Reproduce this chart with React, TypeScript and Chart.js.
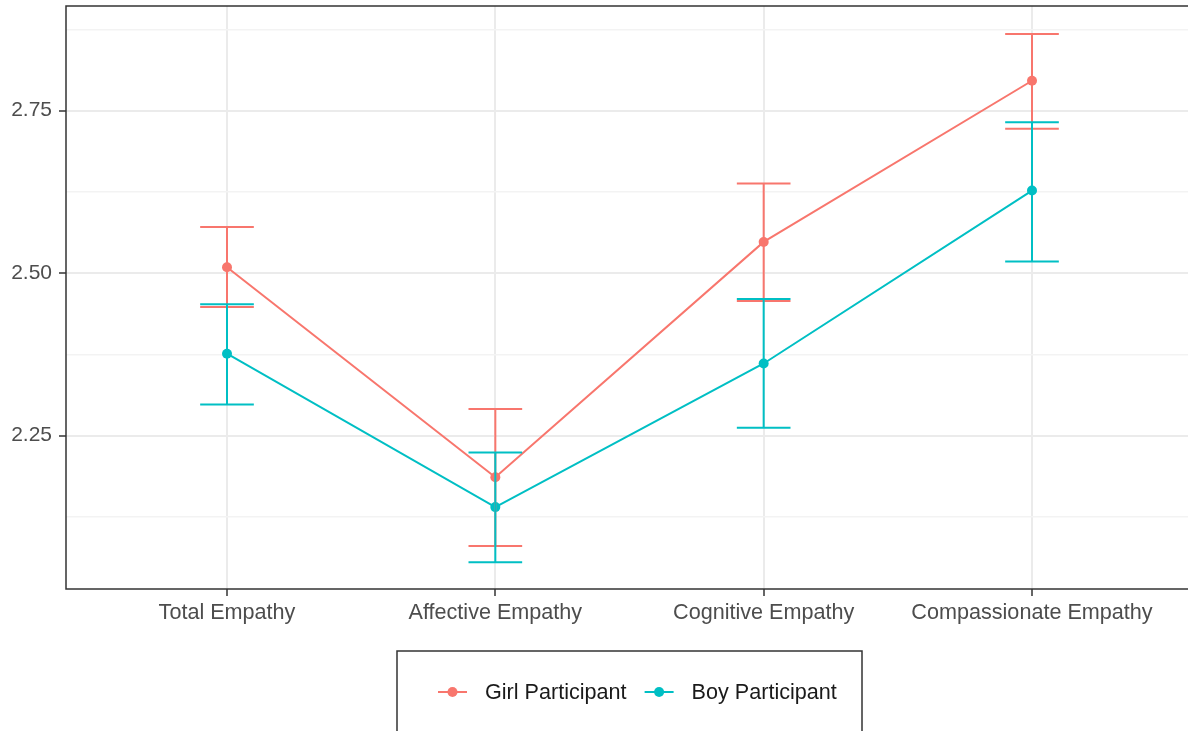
import React, { useEffect, useRef } from "react";
import { Chart, registerables } from "chart.js";

Chart.register(...registerables);

const categories = ["Total Empathy", "Affective Empathy", "Cognitive Empathy", "Compassionate Empathy"];
const seriesNames = ["Girl Participant", "Boy Participant"];
const girlMean = [2.509, 2.186, 2.548, 2.796];
const girlLower = [2.448, 2.080, 2.457, 2.722];
const girlUpper = [2.571, 2.291, 2.638, 2.868];
const boyMean = [2.376, 2.140, 2.361, 2.627];
const boyLower = [2.298, 2.055, 2.262, 2.518];
const boyUpper = [2.452, 2.224, 2.460, 2.732];
const yMajorTicks = [2.25, 2.5, 2.75];
const yMinorTicks = [2.125, 2.375, 2.625, 2.875];

const GIRL = "#F8766D";
const BOY = "#00BFC4";
const FONT = "'Liberation Sans', Arial, Helvetica, sans-serif";

export default function App() {
  const ref = useRef<HTMLCanvasElement | null>(null);

  useEffect(() => {
    document.body.style.margin = "0";
    const canvas = ref.current;
    if (!canvas) return;

    const errorBars = {
      id: "errorBars",
      afterDatasetsDraw(chart: any) {
        const ctx = chart.ctx;
        const xs = chart.scales.x;
        const ys = chart.scales.y;
        const groups = [
          { lo: girlLower, hi: girlUpper, color: GIRL },
          { lo: boyLower, hi: boyUpper, color: BOY },
        ];
        const capHalf = xs.getPixelForValue(0.1) - xs.getPixelForValue(0);
        ctx.save();
        ctx.lineWidth = 2;
        groups.forEach((g) => {
          ctx.strokeStyle = g.color;
          categories.forEach((_, i) => {
            const x = xs.getPixelForValue(i);
            const y1 = ys.getPixelForValue(g.lo[i]);
            const y2 = ys.getPixelForValue(g.hi[i]);
            ctx.beginPath();
            ctx.moveTo(x, y1);
            ctx.lineTo(x, y2);
            ctx.moveTo(x - capHalf, y1);
            ctx.lineTo(x + capHalf, y1);
            ctx.moveTo(x - capHalf, y2);
            ctx.lineTo(x + capHalf, y2);
            ctx.stroke();
          });
        });
        ctx.restore();
      },
    };

    const frameAndLegend = {
      id: "frameAndLegend",
      afterDraw(chart: any) {
        const ctx = chart.ctx;
        const a = chart.chartArea;
        ctx.save();
        ctx.strokeStyle = "#333333";
        ctx.lineWidth = 1.5;
        ctx.strokeRect(a.left, a.top, a.right - a.left, a.bottom - a.top);

        // legend
        const cx = (a.left + a.right) / 2;
        const boxW = 465;
        const boxTop = a.bottom + 62;
        const boxH = 82;
        const bl = cx - boxW / 2;
        ctx.strokeRect(bl, boxTop, boxW, boxH);
        const cy = boxTop + 41;
        ctx.font = `21.6px ${FONT}`;
        ctx.textBaseline = "middle";
        ctx.textAlign = "left";
        let x = bl + 41;
        const colors = [GIRL, BOY];
        seriesNames.forEach((name, i) => {
          ctx.strokeStyle = colors[i];
          ctx.fillStyle = colors[i];
          ctx.lineWidth = 2;
          ctx.beginPath();
          ctx.moveTo(x, cy);
          ctx.lineTo(x + 29, cy);
          ctx.stroke();
          ctx.beginPath();
          ctx.arc(x + 14.5, cy, 5, 0, Math.PI * 2);
          ctx.fill();
          x += 29 + 18;
          ctx.fillStyle = "#1a1a1a";
          ctx.fillText(name, x, cy + 1);
          x += ctx.measureText(name).width + 18;
        });
        ctx.restore();
      },
    };

    const noPad = (scale: any) => {
      scale.paddingTop = 0;
      scale.paddingBottom = 0;
      scale.paddingLeft = 0;
      scale.paddingRight = 0;
    };

    const chart = new Chart(canvas, {
      type: "line",
      data: {
        datasets: [
          {
            label: seriesNames[0],
            data: girlMean.map((v, i) => ({ x: i, y: v })),
            borderColor: GIRL,
            backgroundColor: GIRL,
            borderWidth: 2,
            pointRadius: 5,
            pointBorderWidth: 0,
            pointBackgroundColor: GIRL,
            order: 1,
          },
          {
            label: seriesNames[1],
            data: boyMean.map((v, i) => ({ x: i, y: v })),
            borderColor: BOY,
            backgroundColor: BOY,
            borderWidth: 2,
            pointRadius: 5,
            pointBorderWidth: 0,
            pointBackgroundColor: BOY,
            order: 0,
          },
        ],
      },
      options: {
        animation: false,
        responsive: false,
        devicePixelRatio: 1,
        layout: { padding: { top: 6, right: 7, left: 0, bottom: 131 } },
        plugins: { legend: { display: false }, tooltip: { enabled: false } },
        scales: {
          x: {
            type: "linear",
            min: -0.6,
            max: categories.length - 1 + 0.6,
            afterBuildTicks(scale: any) {
              scale.ticks = categories.map((_, i) => ({ value: i }));
            },
            afterFit(scale: any) {
              scale.height = 40;
              noPad(scale);
            },
            ticks: {
              callback: (v: any) => categories[Math.round(Number(v))] ?? "",
              color: "#4D4D4D",
              font: { family: FONT, size: 21.6 },
              padding: 4,
              maxRotation: 0,
              autoSkip: false,
            },
            grid: {
              color: "#EBEBEB",
              lineWidth: 2,
              tickColor: "#333333",
              tickLength: 7,
              tickWidth: 1.5,
            },
            border: { display: false },
          },
          y: {
            type: "linear",
            min: 2.014,
            max: 2.911,
            afterBuildTicks(scale: any) {
              scale.ticks = [...yMajorTicks, ...yMinorTicks].sort((p, q) => p - q).map((v) => ({ value: v }));
            },
            afterFit(scale: any) {
              scale.width = 66;
              noPad(scale);
            },
            ticks: {
              callback: (v: any) => (yMajorTicks.includes(Number(v)) ? Number(v).toFixed(2) : ""),
              color: "#4D4D4D",
              font: { family: FONT, size: 21 },
              padding: 7,
              autoSkip: false,
            },
            grid: {
              color: (c: any) => (yMajorTicks.includes(c.tick?.value) ? "#EBEBEB" : "#F3F3F3"),
              lineWidth: (c: any) => (yMajorTicks.includes(c.tick?.value) ? 2 : 1.5),
              tickColor: (c: any) => (yMajorTicks.includes(c.tick?.value) ? "#333333" : "rgba(0,0,0,0)"),
              tickLength: 7,
              tickWidth: 1.5,
            },
            border: { display: false },
          },
        },
      },
      plugins: [errorBars, frameAndLegend],
    });

    return () => chart.destroy();
  }, []);

  return (
    <div style={{ width: 1188, height: 731, overflow: "hidden", position: "relative", background: "#fff" }}>
      <canvas ref={ref} width={1200} height={760} style={{ width: 1200, height: 760, display: "block" }} />
    </div>
  );
}
